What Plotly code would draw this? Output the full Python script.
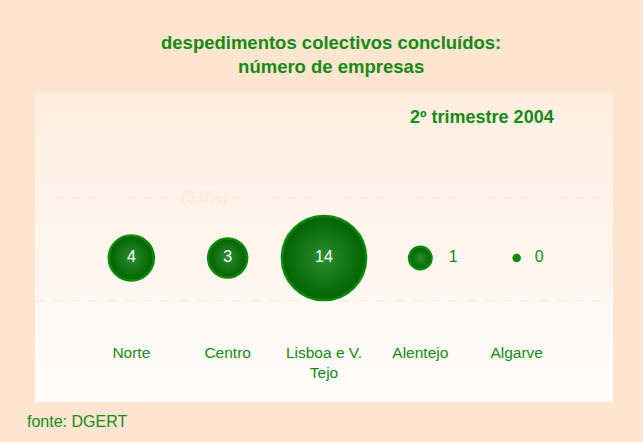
import plotly.graph_objects as go
import numpy as np

regions = ["Norte", "Centro", "Lisboa e V.<br>Tejo", "Alentejo", "Algarve"]
empresas = [4, 3, 14, 1, 0]
title_text = "despedimentos colectivos concluídos:<br>número de empresas"
subtitle_text = "2º trimestre 2004"
source_text = "fonte: DGERT"
ghost_text = "(5,0%)"

GREEN_TXT = "#168a16"
FONT = "Liberation Sans, Arial, sans-serif"

vals = np.array(empresas, dtype=float)
sizes = np.maximum(22.5 * np.sqrt(vals), 6)
inside = [v >= 3 for v in empresas]
textpos = ["middle center" if i else "middle right" for i in inside]
textcol = ["white" if i else GREEN_TXT for i in inside]
labels = [str(v) if i else "&nbsp;&nbsp;&nbsp;" + str(v) for v, i in zip(empresas, inside)]

xs = list(range(len(regions)))

fig = go.Figure()
fig.add_trace(go.Scatter(
    x=xs, y=[0] * len(xs), mode="markers+text",
    text=labels,
    textposition=textpos,
    textfont=dict(color=textcol, size=16, family=FONT),
    marker=dict(size=sizes, sizemode="diameter", color="#006200", opacity=1,
                gradient=dict(type="radial", color="#2c8f2c"),
                line=dict(color="#0a8a0a", width=2.5)),
    hoverinfo="skip", showlegend=False, cliponaxis=False,
))

# background gradient for the inner panel
shapes = []
n = 40
y0, y1 = -0.252, 1.0
top = np.array([0xFE, 0xEF, 0xE1]); bot = np.array([0xFF, 0xFD, 0xFB])
for i in range(n):
    t = i / (n - 1)
    c = (top * (1 - t) + bot * t).astype(int)
    ya = y1 - (y1 - y0) * i / n
    yb = y1 - (y1 - y0) * (i + 1) / n
    shapes.append(dict(type="rect", xref="paper", yref="paper", x0=0, x1=1,
                       y0=yb, y1=ya + 0.002, line=dict(width=0),
                       fillcolor="rgb(%d,%d,%d)" % tuple(c), layer="below"))
for yy in [0.578, 0.16]:
    shapes.append(dict(type="line", xref="paper", yref="paper", x0=0, x1=1,
                       y0=yy, y1=yy, line=dict(color="#FCEDDF", width=1.5, dash="dash"),
                       layer="below"))

fig.update_layout(
    width=643, height=442,
    margin=dict(l=35, r=30, t=94, b=102),
    paper_bgcolor="#FDE5CF", plot_bgcolor="rgba(0,0,0,0)",
    shapes=shapes,
    font=dict(family=FONT, color=GREEN_TXT),
    title=dict(text="<b>" + title_text + "</b>", x=0.515, xanchor="center",
               y=0.89, yanchor="top", yref="container",
               font=dict(size=18.5, color=GREEN_TXT, family=FONT)),
    xaxis=dict(range=[-1, 5], tickvals=xs, ticktext=regions, showgrid=False,
               zeroline=False, showline=False, ticks="", ticklabelstandoff=1,
               tickfont=dict(size=15.5, color=GREEN_TXT, family=FONT), fixedrange=True),
    yaxis=dict(range=[-82, 164], visible=False, fixedrange=True),
    annotations=[
        dict(text="<b>" + subtitle_text + "</b>", xref="paper", yref="paper",
             x=0.773, y=0.907, xanchor="center", yanchor="middle", showarrow=False,
             font=dict(size=18, color=GREEN_TXT, family=FONT)),
        dict(text="<b>" + ghost_text + "</b>", xref="paper", yref="paper",
             x=0.294, y=0.578, xanchor="center", yanchor="middle", showarrow=False,
             font=dict(size=16, color="#FDEBDB", family=FONT)),
        dict(text=source_text, xref="paper", yref="paper",
             x=-0.017, y=-0.333, xanchor="left", yanchor="middle", showarrow=False,
             font=dict(size=16, color=GREEN_TXT, family=FONT)),
    ],
)

fig.write_html("out.html", config={"displayModeBar": False},
               post_script="document.body.style.margin='0';")
